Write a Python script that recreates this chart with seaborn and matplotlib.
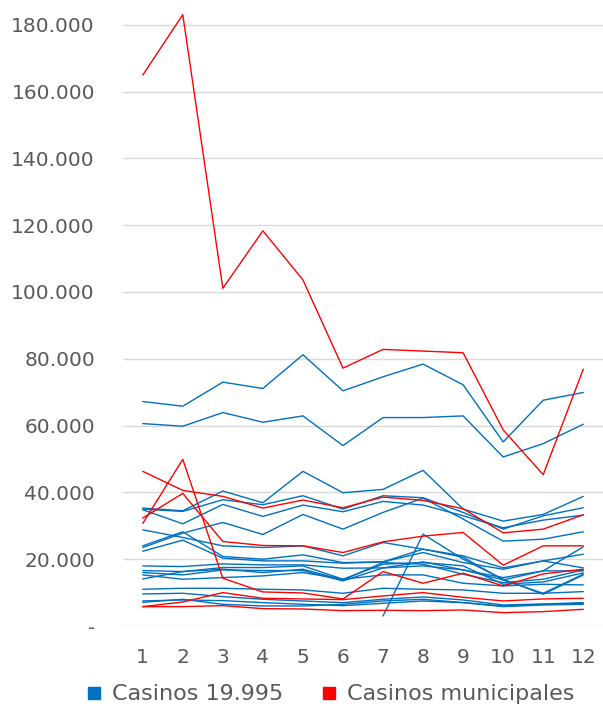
import numpy as np
import pandas as pd
import seaborn as sns
import matplotlib.pyplot as plt
from matplotlib.lines import Line2D
from matplotlib.ticker import FuncFormatter

months = list(range(1, 13))

# Casinos 19.995 (one list per casino, values in euros / 1000)
blue_series = [
    [67.2, 65.8, 73.0, 71.1, 81.2, 70.4, 74.6, 78.4, 72.2, 55.1, 67.6, 69.9],
    [60.6, 59.8, 63.9, 61.0, 62.9, 54.0, 62.4, 62.4, 62.9, 50.6, 54.6, 60.4],
    [35.3, 34.5, 40.4, 36.9, 46.3, 39.9, 40.9, 46.6, 35.0, 31.4, 33.4, 38.8],
    [35.0, 34.3, 37.8, 36.3, 39.0, 35.0, 39.0, 38.4, 34.0, 29.0, 33.0, 35.4],
    [34.8, 30.6, 36.4, 32.8, 36.2, 34.2, 37.3, 36.2, 33.0, 29.4, 31.7, 33.2],
    [23.5, 27.8, 31.0, 27.4, 33.4, 29.0, 34.0, 38.3, 32.0, 25.4, 26.0, 28.2],
    [28.8, 26.5, 24.0, 23.5, 24.0, 21.0, 25.0, 23.0, 21.0, 17.4, 19.5, 21.5],
    [24.0, 28.2, 20.8, 20.0, 21.3, 19.0, 19.2, 23.0, 20.6, 13.8, 16.5, 23.7],
    [22.4, 25.7, 20.3, 19.5, 19.5, 18.8, 19.2, 22.0, 19.0, 17.0, 19.5, 17.4],
    [18.0, 17.8, 18.6, 18.3, 18.3, 17.3, 17.4, 19.2, 16.8, 14.5, 16.5, 16.5],
    [16.6, 16.3, 17.5, 17.5, 18.0, 14.0, 18.5, 19.0, 18.0, 12.5, 13.2, 15.9],
    [16.0, 15.3, 16.8, 16.6, 16.6, 13.5, 17.4, 18.0, 16.8, 13.8, 9.8, 15.5],
    [15.3, 14.0, 14.5, 15.0, 16.0, 14.0, 15.3, 15.3, 12.8, 12.0, 12.5, 12.3],
    [14.1, 16.3, 17.0, 16.0, 17.0, 13.8, 19.0, 18.5, 15.5, 13.0, 14.0, 16.8],
    [11.0, 11.3, 11.3, 11.0, 10.8, 9.8, 11.3, 11.0, 10.8, 9.8, 9.8, 10.3],
    [9.6, 9.8, 8.8, 8.0, 7.5, 7.0, 8.0, 8.7, 7.8, 6.3, 6.6, 7.0],
    [7.5, 7.8, 7.6, 7.0, 6.5, 6.1, 6.8, 7.5, 7.0, 5.8, 6.3, 6.5],
    [7.1, 8.0, 6.5, 6.0, 6.0, 6.5, 7.5, 8.0, 7.0, 6.0, 6.5, 6.8],
    [None, None, None, None, None, None, 3.0, 27.5, 20.0, 14.0, 9.5, 15.3],
]

# Casinos municipales
red_series = [
    [164.9, 183.0, 101.1, 118.3, 103.6, 77.2, 82.8, 82.3, 81.8, 58.7, 45.3, 76.9],
    [46.3, 40.6, 38.8, 35.3, 37.7, 35.4, 38.6, 37.6, 35.1, 27.9, 29.0, 33.3],
    [30.7, 49.9, 14.3, 10.2, 9.9, 8.1, 16.3, 12.8, 15.8, 12.0, 15.6, 17.0],
    [32.3, 39.7, 25.3, 24.1, 24.0, 22.0, 25.2, 26.9, 28.0, 18.2, 24.0, 24.0],
    [5.8, 7.2, 10.0, 8.3, 8.1, 7.9, 9.0, 10.0, 8.6, 7.5, 8.1, 8.3],
    [5.8, 5.8, 6.1, 5.2, 5.1, 4.6, 4.7, 4.6, 4.8, 4.0, 4.3, 5.0],
]

groups = ['Casinos 19.995', 'Casinos municipales']
colors = {'Casinos 19.995': '#0070C0', 'Casinos municipales': '#FF0000'}

rows = []
for grp, series in zip(groups, [blue_series, red_series]):
    for i, vals in enumerate(series):
        for m, v in zip(months, vals):
            if v is not None:
                rows.append({'mes': m, 'valor': v * 1000, 'grupo': grp, 'casino': f'{grp}_{i}'})
df = pd.DataFrame(rows)

sns.set_style('white')
plt.rcParams['font.family'] = ['DejaVu Sans']
gray = '#595959'

fig = plt.figure(figsize=(6.03, 7.13), dpi=100)
ax = fig.add_axes([0.2035, 0.122, 0.797, 0.8668])

sns.lineplot(data=df, x='mes', y='valor', hue='grupo', units='casino', estimator=None,
             palette=colors, hue_order=groups, linewidth=1.0, legend=False, ax=ax)

ax.set_xlim(0.5, 12.5)
ax.set_ylim(0, 185000)
ax.set_xticks(months)
ax.set_yticks(np.arange(0, 180001, 20000))
ax.yaxis.set_major_formatter(FuncFormatter(
    lambda v, p: '-' if v == 0 else f'{int(v):,}'.replace(',', '.')))
ax.grid(axis='y', color='#D9D9D9', linewidth=1.0)
ax.set_axisbelow(True)
for s in ax.spines.values():
    s.set_visible(False)
ax.tick_params(axis='both', length=0, labelsize=14.5, colors=gray)
ax.tick_params(axis='x', pad=16)
ax.tick_params(axis='y', pad=20)
ax.set_xlabel('')
ax.set_ylabel('')

handles = [Line2D([], [], marker='s', linestyle='', color=colors[g], markersize=9) for g in groups]
fig.legend(handles, groups, loc='center', bbox_to_anchor=(0.545, 0.026), ncol=2, frameon=False,
           fontsize=16, labelcolor=gray, handletextpad=0.3, columnspacing=1.6, handlelength=1.0)

fig.savefig('out.png', dpi=100)
